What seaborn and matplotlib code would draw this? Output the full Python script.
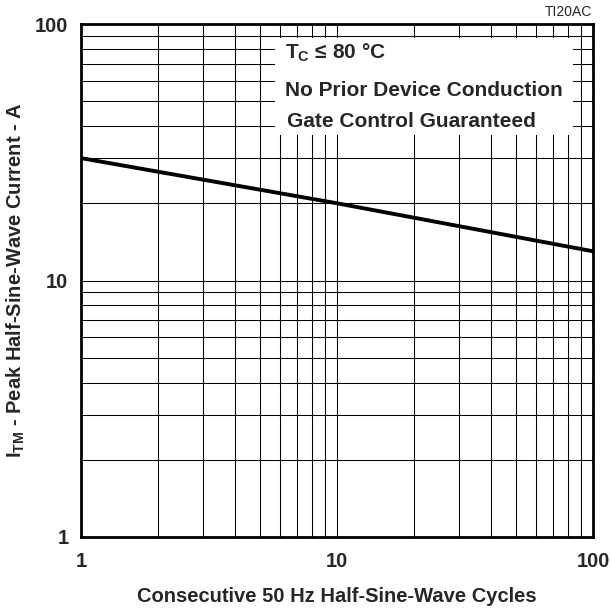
import matplotlib
matplotlib.use("Agg")
import matplotlib.pyplot as plt
import matplotlib.ticker as mticker
from matplotlib.patches import Rectangle
import pandas as pd
import seaborn as sns

# ---- data ----
cycles = [1, 10, 100]
peak_current = [30, 20, 13]
x_ticks = [1, 10, 100]
y_ticks = [1, 10, 100]
tick_labels = ["1", "10", "100"]
note_lines = [r"$\mathbf{T}_{\mathbf{C}}$ ≤ 80 °C",
              "No Prior Device Conduction",
              "Gate Control Guaranteed"]
x_label = "Consecutive 50 Hz Half-Sine-Wave Cycles"
y_label = r"$\mathbf{I}_{\mathbf{TM}}$ - Peak Half-Sine-Wave Current - A"
fig_id = "TI20AC"

df = pd.DataFrame({"cycles": cycles, "current": peak_current})

sns.set_theme(style="white")
plt.rcParams['font.family'] = ['Liberation Sans', 'DejaVu Sans']
plt.rcParams['mathtext.fontset'] = 'custom'
plt.rcParams['mathtext.rm'] = 'Liberation Sans'
plt.rcParams['mathtext.bf'] = 'Liberation Sans:bold'
plt.rcParams['mathtext.it'] = 'Liberation Sans:italic'

fig = plt.figure(figsize=(6.1, 6.1), dpi=100)
ax = fig.add_axes([81/610, 1 - 537/610, 512/610, 513/610])

sns.lineplot(data=df, x="cycles", y="current", ax=ax, color="black",
             linewidth=2.8, zorder=3)

ax.set_xscale("log")
ax.set_yscale("log")
ax.set_xlim(1, 100)
ax.set_ylim(1, 100)

ax.xaxis.set_major_locator(mticker.FixedLocator(x_ticks))
ax.yaxis.set_major_locator(mticker.FixedLocator(y_ticks))
ax.xaxis.set_minor_locator(mticker.LogLocator(base=10, subs=range(2, 10)))
ax.yaxis.set_minor_locator(mticker.LogLocator(base=10, subs=range(2, 10)))
ax.xaxis.set_minor_formatter(mticker.NullFormatter())
ax.yaxis.set_minor_formatter(mticker.NullFormatter())
ax.set_xticklabels(tick_labels)
ax.set_yticklabels(tick_labels)

ax.tick_params(axis="both", which="both", length=0)
ax.tick_params(axis="x", which="major", pad=11, labelsize=14.5)
ax.tick_params(axis="y", which="major", pad=9, labelsize=14.5)
for lab in ax.get_xticklabels() + ax.get_yticklabels():
    lab.set_fontweight("bold")

ax.set_axisbelow(True)
ax.grid(True, which="both", color="black", linewidth=0.75)

for sp in ax.spines.values():
    sp.set_visible(True)
    sp.set_color("black")
    sp.set_linewidth(2.0)
    sp.set_zorder(5)

# white note box interrupting the grid
box = Rectangle((0.379, 0.784), 0.582, 0.189, transform=ax.transAxes,
                facecolor="white", edgecolor="none", zorder=1)
ax.add_patch(box)

note_pos = [(0.398, 0.943), (0.398, 0.871), (0.402, 0.809)]
for (tx, ty), txt in zip(note_pos, note_lines):
    ax.text(tx, ty, txt, transform=ax.transAxes, ha="left", va="center",
            fontsize=15, fontweight="bold", zorder=4)

ax.set_xlabel(x_label, fontsize=14.5, fontweight="bold", labelpad=11)
ax.set_ylabel(y_label, fontsize=14.5, fontweight="bold", labelpad=6)

fig.text(592/610, 1 - 12/610, fig_id, ha="right", va="center", fontsize=10)

fig.savefig("out.png", dpi=100)
